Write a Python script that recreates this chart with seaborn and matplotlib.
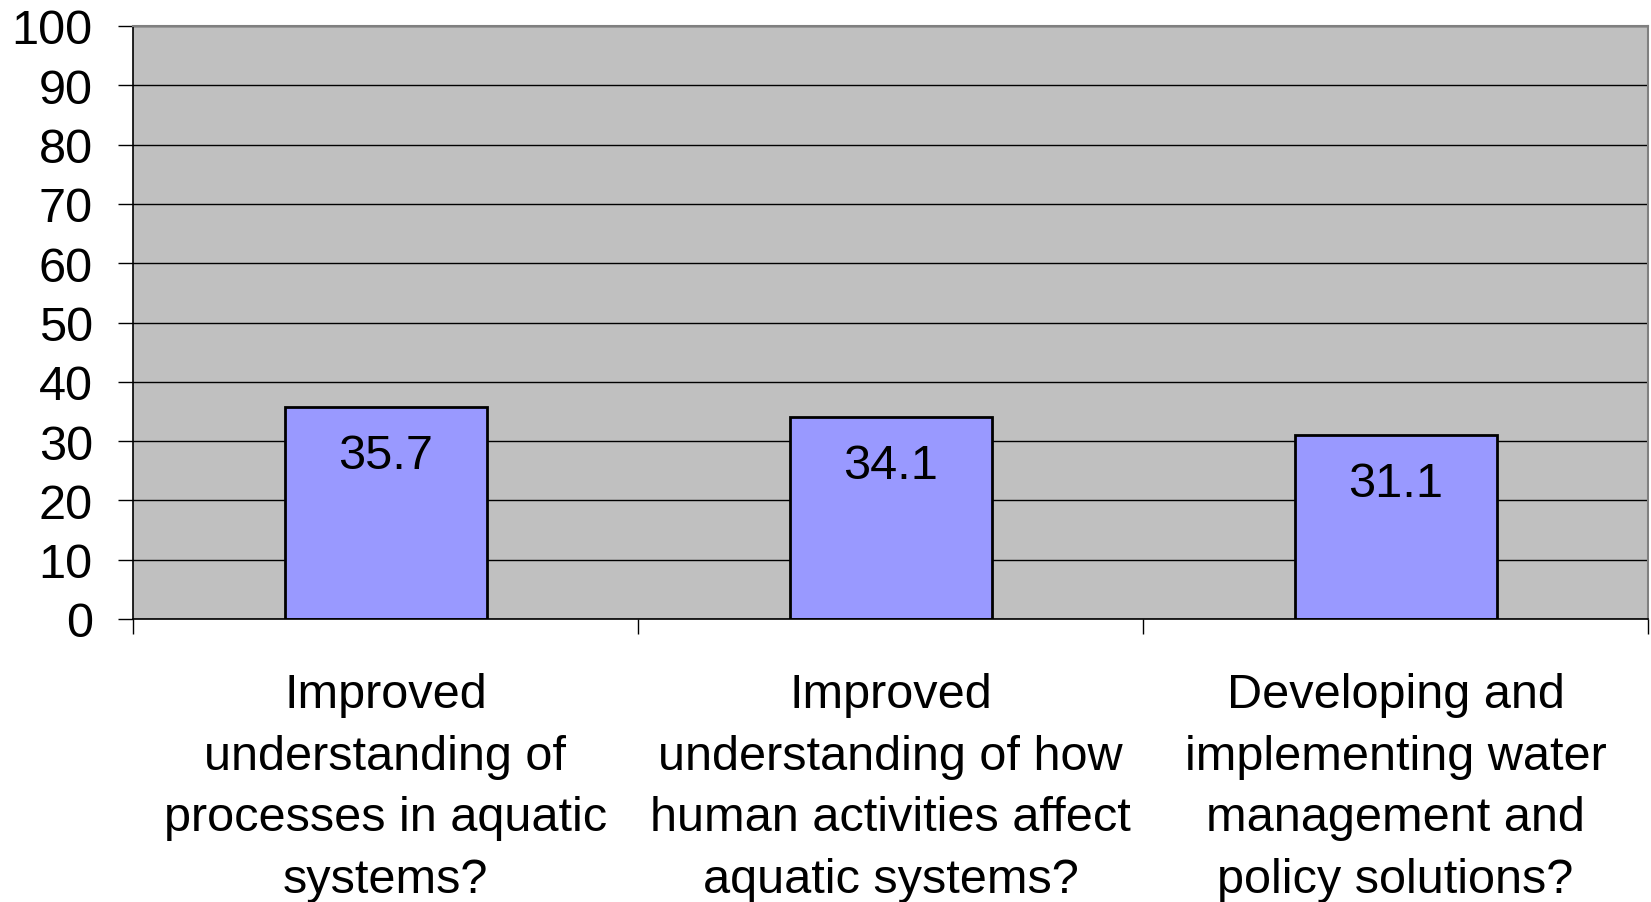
# bar chart of research priority scores

import pandas as pd
import matplotlib
matplotlib.use("Agg")
import matplotlib.pyplot as plt
import seaborn as sns

categories = [
    "Improved\nunderstanding of\nprocesses in aquatic\nsystems?",
    "Improved\nunderstanding of how\nhuman activities affect\naquatic systems?",
    "Developing and\nimplementing water\nmanagement and\npolicy solutions?",
]
scores = [35.7, 34.1, 31.1]
y_ticks = [0, 10, 20, 30, 40, 50, 60, 70, 80, 90, 100]

df = pd.DataFrame({"Category": categories, "Score": scores})

sns.set_style("white")
plt.rcParams["font.family"] = ["Liberation Sans", "DejaVu Sans"]
plt.rcParams["text.color"] = "black"
plt.rcParams["xtick.color"] = "black"
plt.rcParams["ytick.color"] = "black"

fig = plt.figure(figsize=(16.51, 9.03), dpi=100)
ax = fig.add_axes([133 / 1651, 1 - 620 / 903, 1515 / 1651, 593 / 903])
ax.set_facecolor("#C0C0C0")
ax.set_axisbelow(True)

sns.barplot(data=df, x="Category", y="Score", color="#9999FF", width=0.4,
            edgecolor="black", linewidth=2, saturation=1, ax=ax)

for i, v in enumerate(scores):
    ax.annotate("{:.1f}".format(v), xy=(i, v), xytext=(0, -35), textcoords="offset points",
                ha="center", va="center", fontsize=35, color="black")

ax.set_ylim(0, 100)
ax.set_xlim(-0.5, 2.5)
ax.set_yticks(y_ticks)
ax.set_yticklabels([str(t) for t in y_ticks], fontsize=35)
ax.yaxis.grid(True, color="black", linewidth=1)
ax.tick_params(axis="y", direction="out", length=11, width=1, color="black", pad=18, left=True)

# category labels, tick marks at the boundaries
ax.set_xticks(range(len(categories)))
ax.set_xticklabels(categories, fontsize=35, linespacing=1.48)
ax.tick_params(axis="x", which="major", length=0, pad=38)
ax.set_xticks([-0.5, 0.5, 1.5, 2.5], minor=True)
ax.tick_params(axis="x", which="minor", direction="out", length=11, width=1, color="black", bottom=True)
ax.set_xlabel("")
ax.set_ylabel("")

for side in ["left", "bottom"]:
    ax.spines[side].set_color("black")
    ax.spines[side].set_linewidth(1.2)
for side in ["top", "right"]:
    ax.spines[side].set_color("#808080")
    ax.spines[side].set_linewidth(1.5)

plt.savefig("out.png", dpi=100)
